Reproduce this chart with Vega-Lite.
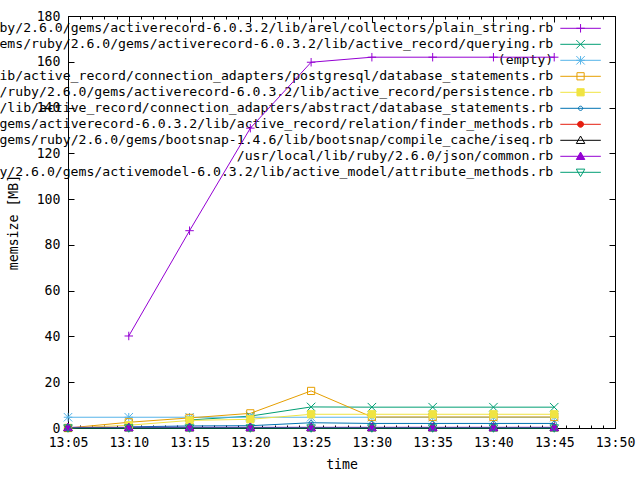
{
  "$schema": "https://vega.github.io/schema/vega-lite/v6.json",
  "width": 547,
  "height": 412,
  "autosize": "none",
  "padding": {"left": 68, "top": 16, "right": 25, "bottom": 52},
  "background": "white",
  "config": {
    "view": {"stroke": "black", "strokeWidth": 1},
    "axis": {
      "domain": false, "grid": false, "tickColor": "black", "tickWidth": 1,
      "labelColor": "black", "labelFont": "DejaVu Sans Mono", "labelFontSize": 13.2,
      "labelFlush": false, "labelOverlap": false,
      "titleFont": "DejaVu Sans Mono", "titleFontSize": 13.2, "titleFontWeight": "normal", "titleColor": "black"
    }
  },
  "datasets": {
    "keys": [
      {"k": "s1", "file": "/usr/local/bundle/gems/ruby/2.6.0/gems/activerecord-6.0.3.2/lib/arel/collectors/plain_string.rb"},
      {"k": "s2", "file": "/usr/local/bundle/gems/ruby/2.6.0/gems/activerecord-6.0.3.2/lib/active_record/querying.rb"},
      {"k": "s3", "file": "(empty)"},
      {"k": "s4", "file": "/usr/local/bundle/gems/ruby/2.6.0/gems/activerecord-6.0.3.2/lib/active_record/connection_adapters/postgresql/database_statements.rb"},
      {"k": "s5", "file": "/usr/local/bundle/gems/ruby/2.6.0/gems/activerecord-6.0.3.2/lib/active_record/persistence.rb"},
      {"k": "s6", "file": "/usr/local/bundle/gems/ruby/2.6.0/gems/activerecord-6.0.3.2/lib/active_record/connection_adapters/abstract/database_statements.rb"},
      {"k": "s7", "file": "/usr/local/bundle/gems/ruby/2.6.0/gems/activerecord-6.0.3.2/lib/active_record/relation/finder_methods.rb"},
      {"k": "s8", "file": "/usr/local/bundle/gems/ruby/2.6.0/gems/bootsnap-1.4.6/lib/bootsnap/compile_cache/iseq.rb"},
      {"k": "s9", "file": "/usr/local/lib/ruby/2.6.0/json/common.rb"},
      {"k": "s10", "file": "/usr/local/bundle/gems/ruby/2.6.0/gems/activemodel-6.0.3.2/lib/active_model/attribute_methods.rb"}
    ],
    "mem": [
      {"t": "2020-06-01T13:10", "k": "s1", "mb": 40.2},
      {"t": "2020-06-01T13:15", "k": "s1", "mb": 86.2},
      {"t": "2020-06-01T13:20", "k": "s1", "mb": 131.0},
      {"t": "2020-06-01T13:25", "k": "s1", "mb": 159.8},
      {"t": "2020-06-01T13:30", "k": "s1", "mb": 162.0},
      {"t": "2020-06-01T13:35", "k": "s1", "mb": 162.0},
      {"t": "2020-06-01T13:40", "k": "s1", "mb": 162.0},
      {"t": "2020-06-01T13:45", "k": "s1", "mb": 162.0},
      {"t": "2020-06-01T13:15", "k": "s2", "mb": 3.5},
      {"t": "2020-06-01T13:20", "k": "s2", "mb": 5.2},
      {"t": "2020-06-01T13:25", "k": "s2", "mb": 9.2},
      {"t": "2020-06-01T13:30", "k": "s2", "mb": 9.1},
      {"t": "2020-06-01T13:35", "k": "s2", "mb": 9.1},
      {"t": "2020-06-01T13:40", "k": "s2", "mb": 9.1},
      {"t": "2020-06-01T13:45", "k": "s2", "mb": 9.1},
      {"t": "2020-06-01T13:05", "k": "s3", "mb": 4.7},
      {"t": "2020-06-01T13:10", "k": "s3", "mb": 4.7},
      {"t": "2020-06-01T13:15", "k": "s3", "mb": 4.7},
      {"t": "2020-06-01T13:20", "k": "s3", "mb": 4.7},
      {"t": "2020-06-01T13:25", "k": "s3", "mb": 4.7},
      {"t": "2020-06-01T13:30", "k": "s3", "mb": 4.7},
      {"t": "2020-06-01T13:35", "k": "s3", "mb": 4.7},
      {"t": "2020-06-01T13:40", "k": "s3", "mb": 4.7},
      {"t": "2020-06-01T13:45", "k": "s3", "mb": 4.7},
      {"t": "2020-06-01T13:05", "k": "s4", "mb": 0},
      {"t": "2020-06-01T13:10", "k": "s4", "mb": 2.5},
      {"t": "2020-06-01T13:15", "k": "s4", "mb": 4.4},
      {"t": "2020-06-01T13:20", "k": "s4", "mb": 6.4},
      {"t": "2020-06-01T13:25", "k": "s4", "mb": 16.2},
      {"t": "2020-06-01T13:30", "k": "s4", "mb": 4.8},
      {"t": "2020-06-01T13:35", "k": "s4", "mb": 4.8},
      {"t": "2020-06-01T13:40", "k": "s4", "mb": 4.8},
      {"t": "2020-06-01T13:45", "k": "s4", "mb": 4.8},
      {"t": "2020-06-01T13:05", "k": "s5", "mb": 0},
      {"t": "2020-06-01T13:10", "k": "s5", "mb": 1.2},
      {"t": "2020-06-01T13:15", "k": "s5", "mb": 3.3},
      {"t": "2020-06-01T13:20", "k": "s5", "mb": 3.8},
      {"t": "2020-06-01T13:25", "k": "s5", "mb": 6.0},
      {"t": "2020-06-01T13:30", "k": "s5", "mb": 6.0},
      {"t": "2020-06-01T13:35", "k": "s5", "mb": 6.0},
      {"t": "2020-06-01T13:40", "k": "s5", "mb": 6.0},
      {"t": "2020-06-01T13:45", "k": "s5", "mb": 6.0},
      {"t": "2020-06-01T13:10", "k": "s6", "mb": 0.5},
      {"t": "2020-06-01T13:15", "k": "s6", "mb": 0.9},
      {"t": "2020-06-01T13:20", "k": "s6", "mb": 1.0},
      {"t": "2020-06-01T13:25", "k": "s6", "mb": 2.3},
      {"t": "2020-06-01T13:30", "k": "s6", "mb": 2.0},
      {"t": "2020-06-01T13:35", "k": "s6", "mb": 2.0},
      {"t": "2020-06-01T13:40", "k": "s6", "mb": 2.0},
      {"t": "2020-06-01T13:45", "k": "s6", "mb": 2.0},
      {"t": "2020-06-01T13:05", "k": "s7", "mb": 0.2},
      {"t": "2020-06-01T13:10", "k": "s7", "mb": 0.2},
      {"t": "2020-06-01T13:15", "k": "s7", "mb": 0.2},
      {"t": "2020-06-01T13:20", "k": "s7", "mb": 0.2},
      {"t": "2020-06-01T13:25", "k": "s7", "mb": 0.2},
      {"t": "2020-06-01T13:30", "k": "s7", "mb": 0.2},
      {"t": "2020-06-01T13:35", "k": "s7", "mb": 0.2},
      {"t": "2020-06-01T13:40", "k": "s7", "mb": 0.2},
      {"t": "2020-06-01T13:45", "k": "s7", "mb": 0.2},
      {"t": "2020-06-01T13:05", "k": "s8", "mb": 0.1},
      {"t": "2020-06-01T13:10", "k": "s8", "mb": 0.1},
      {"t": "2020-06-01T13:15", "k": "s8", "mb": 0.1},
      {"t": "2020-06-01T13:20", "k": "s8", "mb": 0.1},
      {"t": "2020-06-01T13:25", "k": "s8", "mb": 0.1},
      {"t": "2020-06-01T13:30", "k": "s8", "mb": 0.1},
      {"t": "2020-06-01T13:35", "k": "s8", "mb": 0.1},
      {"t": "2020-06-01T13:40", "k": "s8", "mb": 0.1},
      {"t": "2020-06-01T13:45", "k": "s8", "mb": 0.1},
      {"t": "2020-06-01T13:05", "k": "s9", "mb": 0.3},
      {"t": "2020-06-01T13:10", "k": "s9", "mb": 0.3},
      {"t": "2020-06-01T13:15", "k": "s9", "mb": 0.3},
      {"t": "2020-06-01T13:20", "k": "s9", "mb": 0.3},
      {"t": "2020-06-01T13:25", "k": "s9", "mb": 0.3},
      {"t": "2020-06-01T13:30", "k": "s9", "mb": 0.3},
      {"t": "2020-06-01T13:35", "k": "s9", "mb": 0.3},
      {"t": "2020-06-01T13:40", "k": "s9", "mb": 0.3},
      {"t": "2020-06-01T13:45", "k": "s9", "mb": 0.3},
      {"t": "2020-06-01T13:05", "k": "s10", "mb": 0},
      {"t": "2020-06-01T13:10", "k": "s10", "mb": 0},
      {"t": "2020-06-01T13:15", "k": "s10", "mb": 0},
      {"t": "2020-06-01T13:20", "k": "s10", "mb": 0},
      {"t": "2020-06-01T13:25", "k": "s10", "mb": 0},
      {"t": "2020-06-01T13:30", "k": "s10", "mb": 0},
      {"t": "2020-06-01T13:35", "k": "s10", "mb": 0},
      {"t": "2020-06-01T13:40", "k": "s10", "mb": 0},
      {"t": "2020-06-01T13:45", "k": "s10", "mb": 0}
    ]
  },
  "layer": [
    {
      "data": {"name": "keys"},
      "mark": {"type": "text", "align": "right", "baseline": "middle", "dx": -1, "font": "DejaVu Sans Mono", "fontSize": 13.15, "color": "black"},
      "encoding": {
        "x": {"datum": {"year": 2020, "month": 6, "date": 1, "hours": 13, "minutes": 45}, "type": "temporal",
              "scale": {"domain": [{"year": 2020, "month": 6, "date": 1, "hours": 13, "minutes": 5}, {"year": 2020, "month": 6, "date": 1, "hours": 13, "minutes": 50}], "nice": false},
              "axis": {"orient": "bottom", "labels": false, "title": null, "tickCount": 45, "tickSize": 3, "offset": -3}},
        "y": {"field": "k", "type": "nominal", "scale": {"type": "point", "padding": 0, "domain": ["s1","s2","s3","s4","s5","s6","s7","s8","s9","s10"], "range": [12.3, 156.3]}, "axis": null},
        "text": {"field": "file"}
      }
    },
    {
      "data": {"name": "keys"},
      "mark": {"type": "rule", "strokeWidth": 1},
      "encoding": {
        "x": {"datum": {"year": 2020, "month": 6, "date": 1, "hours": 13, "minutes": 45, "seconds": 30}, "type": "temporal",
              "scale": {"domain": [{"year": 2020, "month": 6, "date": 1, "hours": 13, "minutes": 5}, {"year": 2020, "month": 6, "date": 1, "hours": 13, "minutes": 50}], "nice": false},
              "axis": {"orient": "top", "labels": false, "title": null, "tickCount": 45, "tickSize": 3, "offset": -3}},
        "x2": {"datum": {"year": 2020, "month": 6, "date": 1, "hours": 13, "minutes": 48, "seconds": 50}},
        "y": {"field": "k", "type": "nominal", "scale": {"type": "point", "padding": 0, "domain": ["s1","s2","s3","s4","s5","s6","s7","s8","s9","s10"], "range": [12.3, 156.3]}, "axis": null},
        "color": {"field": "k", "type": "nominal", "scale": {"domain": ["s1","s2","s3","s4","s5","s6","s7","s8","s9","s10"], "range": ["#9400d3","#009e73","#56b4e9","#e69f00","#f0e442","#0072b2","#e51e10","#000000","#9400d3","#009e73"]}, "legend": null}
      }
    },
    {
      "data": {"name": "keys"},
      "mark": {"type": "point", "strokeWidth": 1, "size": 72, "opacity": 1},
      "encoding": {
        "x": {"datum": {"year": 2020, "month": 6, "date": 1, "hours": 13, "minutes": 47, "seconds": 10}, "type": "temporal",
              "scale": {"domain": [{"year": 2020, "month": 6, "date": 1, "hours": 13, "minutes": 5}, {"year": 2020, "month": 6, "date": 1, "hours": 13, "minutes": 50}], "nice": false},
              "axis": null},
        "y": {"field": "k", "type": "nominal", "scale": {"type": "point", "padding": 0, "domain": ["s1","s2","s3","s4","s5","s6","s7","s8","s9","s10"], "range": [12.3, 156.3]}, "axis": null},
        "shape": {"field": "k", "type": "nominal", "legend": null, "scale": {"domain": ["s1","s2","s3","s4","s5","s6","s7","s8","s9","s10"], "range": ["M-1,0L1,0M0,-1L0,1", "M-1,-1L1,1M-1,1L1,-1", "M-1,0L1,0M0,-1L0,1M-1,-1L1,1M-1,1L1,-1", "M-0.85,-0.85L0.85,-0.85L0.85,0.85L-0.85,0.85Z", "M-0.85,-0.85L0.85,-0.85L0.85,0.85L-0.85,0.85Z", "M-0.5,0A0.5,0.5 0 1,0 0.5,0A0.5,0.5 0 1,0 -0.5,0Z", "M-0.7,0A0.7,0.7 0 1,0 0.7,0A0.7,0.7 0 1,0 -0.7,0Z", "M0,-1L1,0.75L-1,0.75Z", "M0,-1L1,0.75L-1,0.75Z", "M0,1L1,-0.75L-1,-0.75Z"]}},
        "stroke": {"field": "k", "type": "nominal", "legend": null, "scale": {"domain": ["s1","s2","s3","s4","s5","s6","s7","s8","s9","s10"], "range": ["#9400d3","#009e73","#56b4e9","#e69f00","#f0e442","#0072b2","#e51e10","#000000","#9400d3","#009e73"]}},
        "fill": {"field": "k", "type": "nominal", "legend": null, "scale": {"domain": ["s1","s2","s3","s4","s5","s6","s7","s8","s9","s10"], "range": ["transparent","transparent","transparent","transparent","#f0e442","transparent","#e51e10","transparent","#9400d3","transparent"]}}
      }
    },
    {
      "data": {"name": "mem"},
      "mark": {"type": "line", "strokeWidth": 1},
      "encoding": {
        "x": {"field": "t", "type": "temporal",
              "scale": {"domain": [{"year": 2020, "month": 6, "date": 1, "hours": 13, "minutes": 5}, {"year": 2020, "month": 6, "date": 1, "hours": 13, "minutes": 50}], "nice": false},
              "axis": {"orient": "bottom", "title": "time", "format": "%H:%M", "tickCount": 9, "tickSize": 6, "offset": -6, "labelPadding": 8, "titlePadding": 10}},
        "y": {"field": "mb", "type": "quantitative",
              "scale": {"domain": [0, 180], "nice": false, "zero": false},
              "axis": {"orient": "left", "title": "memsize [MB]", "values": [0,20,40,60,80,100,120,140,160,180], "tickSize": 6, "offset": -6, "labelPadding": 8, "titlePadding": 16}},
        "color": {"field": "k", "type": "nominal", "scale": {"domain": ["s1","s2","s3","s4","s5","s6","s7","s8","s9","s10"], "range": ["#9400d3","#009e73","#56b4e9","#e69f00","#f0e442","#0072b2","#e51e10","#000000","#9400d3","#009e73"]}, "legend": null}
      }
    },
    {
      "data": {"name": "mem"},
      "mark": {"type": "point", "strokeWidth": 1, "size": 72, "opacity": 1},
      "encoding": {
        "x": {"field": "t", "type": "temporal",
              "scale": {"domain": [{"year": 2020, "month": 6, "date": 1, "hours": 13, "minutes": 5}, {"year": 2020, "month": 6, "date": 1, "hours": 13, "minutes": 50}], "nice": false},
              "axis": {"orient": "top", "labels": false, "title": null, "tickCount": 9, "tickSize": 6, "offset": -6}},
        "y": {"field": "mb", "type": "quantitative",
              "scale": {"domain": [0, 180], "nice": false, "zero": false},
              "axis": {"orient": "right", "labels": false, "title": null, "values": [0,20,40,60,80,100,120,140,160,180], "tickSize": 6, "offset": -6}},
        "shape": {"field": "k", "type": "nominal", "legend": null, "scale": {"domain": ["s1","s2","s3","s4","s5","s6","s7","s8","s9","s10"], "range": ["M-1,0L1,0M0,-1L0,1", "M-1,-1L1,1M-1,1L1,-1", "M-1,0L1,0M0,-1L0,1M-1,-1L1,1M-1,1L1,-1", "M-0.85,-0.85L0.85,-0.85L0.85,0.85L-0.85,0.85Z", "M-0.85,-0.85L0.85,-0.85L0.85,0.85L-0.85,0.85Z", "M-0.5,0A0.5,0.5 0 1,0 0.5,0A0.5,0.5 0 1,0 -0.5,0Z", "M-0.7,0A0.7,0.7 0 1,0 0.7,0A0.7,0.7 0 1,0 -0.7,0Z", "M0,-1L1,0.75L-1,0.75Z", "M0,-1L1,0.75L-1,0.75Z", "M0,1L1,-0.75L-1,-0.75Z"]}},
        "stroke": {"field": "k", "type": "nominal", "legend": null, "scale": {"domain": ["s1","s2","s3","s4","s5","s6","s7","s8","s9","s10"], "range": ["#9400d3","#009e73","#56b4e9","#e69f00","#f0e442","#0072b2","#e51e10","#000000","#9400d3","#009e73"]}},
        "fill": {"field": "k", "type": "nominal", "legend": null, "scale": {"domain": ["s1","s2","s3","s4","s5","s6","s7","s8","s9","s10"], "range": ["transparent","transparent","transparent","transparent","#f0e442","transparent","#e51e10","transparent","#9400d3","transparent"]}}
      }
    }
  ],
  "resolve": {"scale": {"x": "independent", "y": "independent"}}
}
